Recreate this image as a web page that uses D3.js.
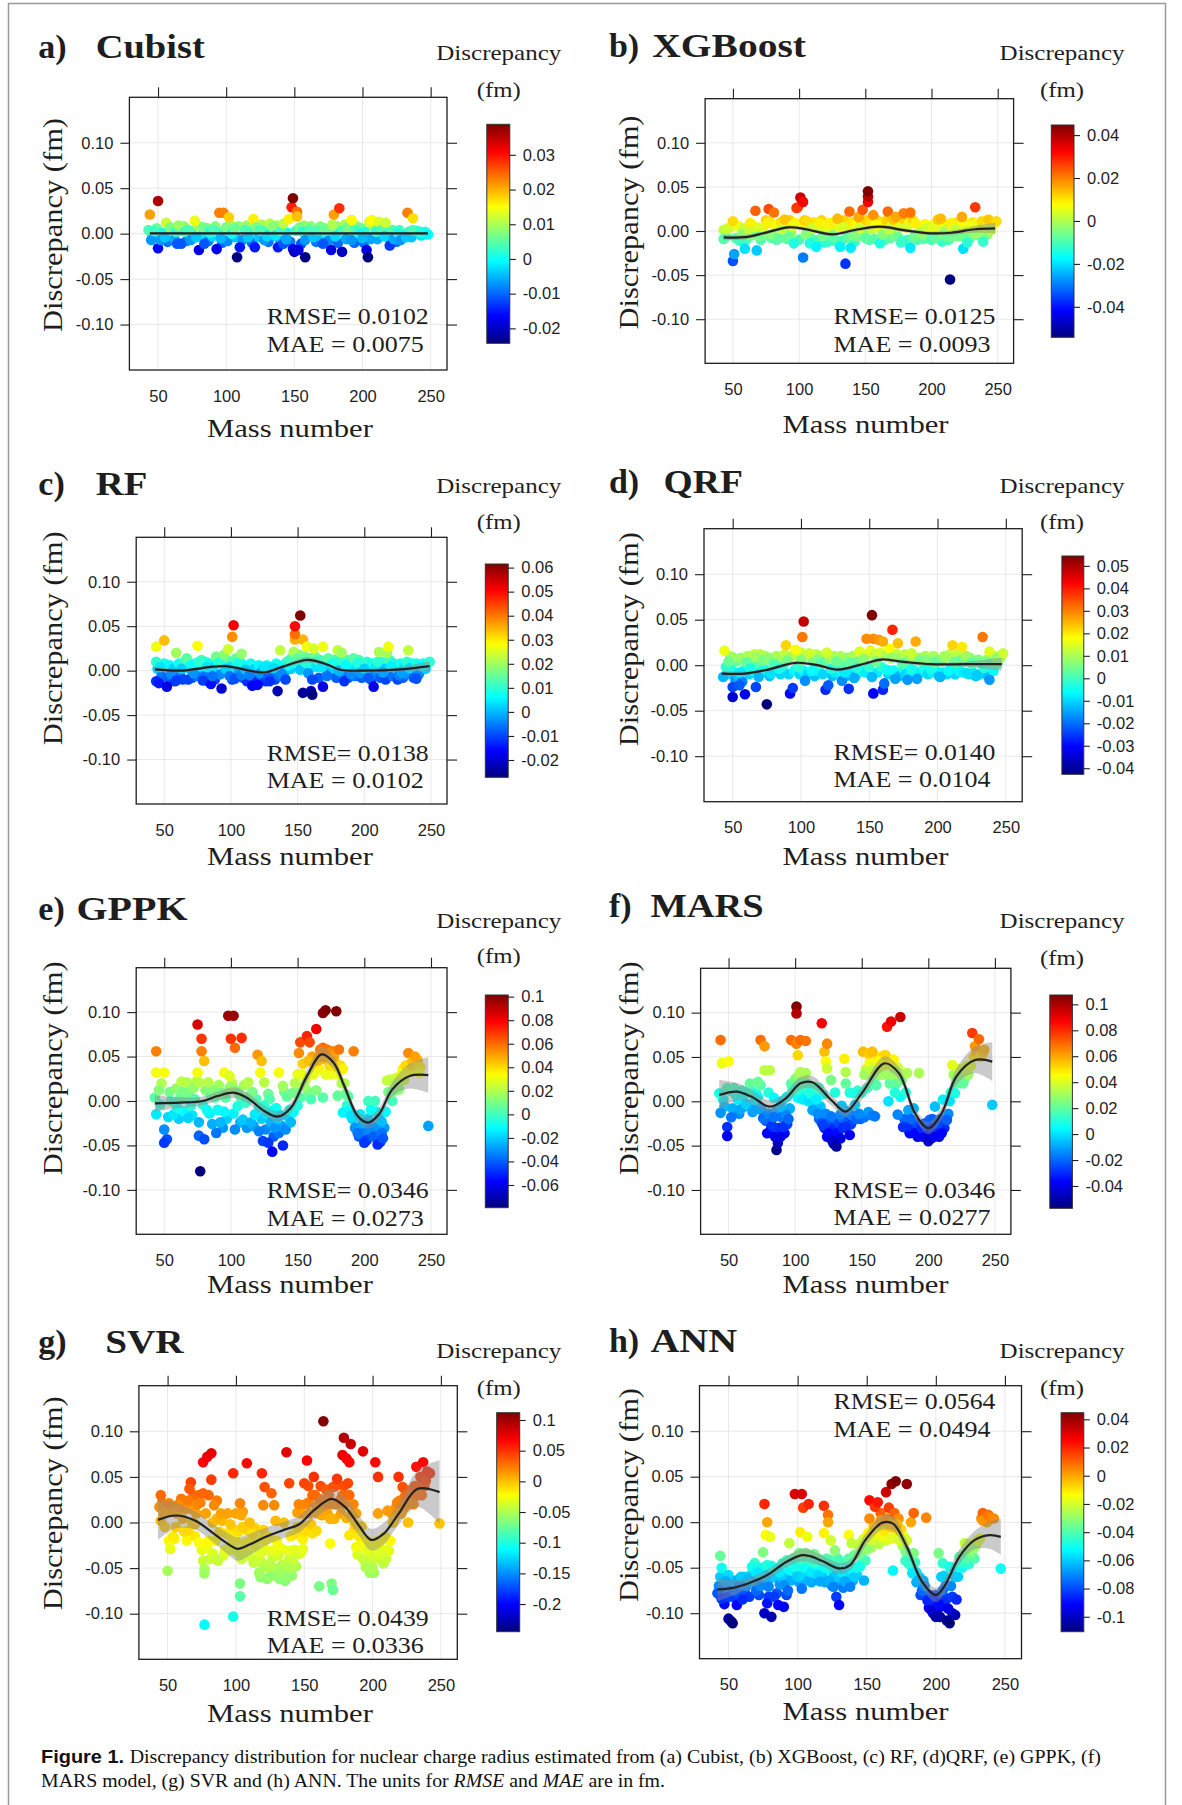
<!DOCTYPE html>
<html>
<head>
<meta charset="utf-8">
<script src="https://cdn.jsdelivr.net/npm/d3@7.9.0/dist/d3.min.js"></script>
<style>
  html, body { margin: 0; padding: 0; background: #fff; }
  svg { display: block; }
</style>
</head>
<body>
<svg id="fig" width="1182" height="1805"></svg>
<script>
// shared axes
const xTicks = [50, 100, 150, 200, 250];
const yTicks = [0.10, 0.05, 0.00, -0.05, -0.10];
const xDomain = [29, 262];
const yDomain = [-0.15, 0.15];
const jet = ["#00007F", "#0000FF", "#007FFF", "#00FFFF", "#7FFF7F", "#FFFF00", "#FF7F00", "#FF0000", "#7F0000"];

// a) Cubist  [mass number, discrepancy]
const cubistPoints = [[46,-0.002],[49,0.006],[53,0.001],[57,-0.009],[61,0.004],[62,-0.006],[66,0.003],[69,0.008],[71,-0.008],[75,0.002],[79,0.009],[82,-0.002],[83,0.007],[87,-0.008],[90,-0.003],[92,0.008],[94,0.001],[97,-0.010],[99,0.002],[101,-0.008],[103,0.010],[107,-0.004],[109,0.008],[112,-0.007],[115,0.009],[118,0.001],[119,-0.010],[124,-0.004],[126,0.010],[127,0.003],[131,-0.009],[133,0.001],[137,0.009],[139,-0.006],[141,0.005],[145,0.001],[147,-0.009],[151,0.003],[155,-0.011],[157,0.009],[160,-0.002],[162,0.008],[165,0.002],[166,-0.009],[169,0.008],[170,-0.004],[173,0.001],[175,-0.008],[176,0.006],[181,0.008],[182,-0.010],[184,0.002],[187,0.010],[190,-0.002],[191,0.004],[194,-0.010],[196,0.008],[199,0.006],[201,-0.010],[202,0.002],[206,-0.006],[208,0.008],[211,-0.006],[213,0.006],[215,0.010],[218,0.002],[219,-0.004],[222,0.004],[225,-0.009],[227,0.004],[230,-0.002],[234,0.002],[236,-0.004],[240,0.003],[243,-0.002],[246,0.002],
  [44,0.021],[50,0.036],[43,0.004],[45,-0.007],[50,-0.016],[52,-0.007],[47,0.003],[55,-0.004],[56,0.012],[59,0.007],[63,0.002],[65,0.009],[64,-0.011],[67,-0.011],[70,0.002],[72,0.004],[74,-0.007],[77,0.014],[78,-0.004],[80,-0.018],[84,-0.011],[86,0.006],[88,0.001],[91,0.004],[93,-0.017],[95,0.023],[96,-0.005],[98,0.023],[100,0.007],[102,0.018],[104,0],[106,0.006],[108,-0.026],[110,-0.015],[114,0.004],[116,-0.004],[120,0.016],[121,-0.015],[122,0.007],[125,0.004],[128,-0.007],[130,-0.003],[132,0.011],[134,0.008],[136,-0.002],[138,-0.015],[140,0.003],[142,0.011],[142,-0.011],[144,-0.006],[146,0.016],[148,0.029],[149,0.039],[152,0.024],[152,0.019],[149,-0.017],[150,-0.020],[153,-0.018],[154,0.007],[156,0.002],[158,-0.026],[158,-0.007],[161,0.004],[164,-0.004],[168,0.004],[171,-0.011],[172,0.006],[177,-0.018],[178,0.010],[179,0.021],[180,-0.003],[183,0.028],[185,-0.020],[186,0.004],[188,-0.006],[189,0.007],[192,0.015],[192,-0.007],[195,0.004],[198,0],[200,-0.005],[203,-0.018],[204,-0.026],[205,0.013],[207,0.015],[210,0.002],[212,0.013],[214,0.004],[216,-0.003],[217,0.012],[220,-0.013],[223,-0.006],[226,0.001],[228,-0.007],[232,-0.004],[233,0.023],[237,0.017],[237,0.004],[242,0.002],[245,0.001],[248,-0.001]];
const cubistFitA = [44, 100, 150, 200, 248];
const cubistFitD = [0.0003, 0.0003, 0.0003, 0.0003, 0.0003];
const cubistFitSe = [0.0015, 0.0012, 0.0012, 0.0012, 0.0015];
const cubistBar = [-0.0243, 0.0388];
const cubistBarTicks = [0.03, 0.02, 0.01, 0, -0.01, -0.02];

// b) XGBoost
const xgbPoints = [[45,-0.006],[48,0.004],[52,-0.008],[54,0.006],[58,0.003],[60,-0.010],[64,-0.005],[65,0.006],[69,0.004],[71,-0.010],[74,-0.003],[75,0.012],[78,0.010],[79,-0.008],[82,0.006],[83,-0.010],[86,0.010],[88,-0.005],[90,0.008],[91,-0.009],[93,0.012],[94,-0.002],[97,0.009],[100,-0.010],[102,0.008],[104,0.012],[107,0.002],[109,-0.008],[111,0.010],[112,-0.012],[114,0.004],[115,-0.010],[117,0.012],[119,-0.013],[120,0.002],[122,-0.012],[124,0.006],[125,-0.004],[127,0.010],[128,-0.012],[130,0.005],[132,-0.011],[134,0.012],[136,-0.008],[137,0.005],[140,0.010],[142,-0.012],[143,0.007],[144,-0.006],[147,0.010],[149,-0.003],[151,0.012],[153,-0.010],[154,0.010],[155,0.002],[157,-0.009],[159,0.012],[160,0.004],[162,0.010],[164,0.008],[165,-0.010],[166,0.012],[169,-0.008],[170,0.006],[172,-0.004],[174,0.010],[176,0.004],[177,-0.013],[180,0.012],[182,-0.010],[183,0.008],[186,0.012],[189,-0.010],[190,0.006],[192,0.002],[194,-0.009],[195,0.008],[197,-0.006],[199,0.004],[200,-0.010],[202,0.008],[204,-0.004],[206,0.004],[208,-0.012],[210,0.008],[211,0.002],[213,-0.010],[216,0.006],[217,-0.006],[219,0.010],[220,0.003],[222,0.006],[225,-0.006],[226,0.008],[228,0.002],[229,-0.008],[231,0.010],[232,-0.004],[234,0.008],[236,0.004],[237,-0.006],[240,0.008],[242,-0.004],[244,0.006],[247,0.008],
  [43,0.001],[43,-0.009],[46,0.003],[50,-0.034],[51,-0.026],[50,0.011],[55,-0.011],[57,-0.003],[59,-0.020],[62,0.002],[63,0.009],[67,0.023],[68,-0.022],[70,-0.006],[73,0.004],[76,0.009],[77,0.025],[80,-0.004],[81,0.021],[85,-0.008],[87,0.002],[89,0.013],[92,-0.007],[95,0.006],[96,-0.014],[98,0.026],[99,0.027],[101,0.038],[103,0.033],[103,-0.030],[105,-0.004],[106,0.011],[108,-0.014],[110,0.003],[113,-0.018],[116,0.009],[118,-0.006],[121,0.005],[123,0.009],[126,-0.008],[129,0.014],[131,-0.018],[133,0.004],[135,-0.037],[138,0.022],[139,-0.019],[141,-0.005],[145,0.016],[146,0.003],[148,0.024],[150,-0.008],[152,0.033],[152,0.039],[152,0.045],[156,0.018],[158,0.007],[161,-0.014],[163,-0.004],[167,0.022],[168,0.002],[171,0.013],[173,0.016],[175,-0.007],[178,-0.012],[179,0.020],[181,0.004],[184,0.021],[184,-0.019],[187,-0.006],[188,0.009],[193,-0.003],[196,0.003],[201,0.005],[203,-0.008],[205,0.013],[207,0.014],[209,-0.003],[212,-0.007],[214,-0.055],[215,0.009],[218,0.002],[221,-0.006],[223,0.016],[224,-0.020],[227,-0.013],[230,0.006],[233,0.027],[235,-0.002],[238,0.011],[239,-0.012],[241,0.004],[243,0.013],[245,0.001],[249,0.011]];
const xgbFitA = [43, 59, 73, 92, 105, 125, 142, 161, 179, 199, 215, 233, 248];
const xgbFitD = [-0.0072, -0.007, -0.0026, 0.0042, 0.002, -0.0038, 0.0011, 0.0049, 0.001, -0.0026, -0.002, 0.002, 0.003];
const xgbFitSe = [0.003, 0.0025, 0.002, 0.002, 0.002, 0.002, 0.002, 0.002, 0.002, 0.002, 0.0025, 0.004, 0.006];
const xgbBar = [-0.0542, 0.0447];
const xgbBarTicks = [0.04, 0.02, 0, -0.02, -0.04];

// c) RF
const rfPoints = [[45,0.002],[48,-0.006],[50,0.008],[53,-0.008],[54,0.006],[57,0.002],[58,-0.012],[61,0.008],[62,-0.006],[64,-0.010],[65,0.004],[66,0.012],[69,0.002],[71,-0.008],[73,0.008],[74,-0.006],[77,0.004],[78,0.012],[80,-0.006],[81,0.010],[83,-0.012],[84,0.008],[87,0.004],[88,-0.010],[90,0.012],[92,-0.004],[94,0.008],[97,0.012],[100,0.004],[101,-0.010],[104,0.014],[106,-0.002],[107,0.010],[109,-0.008],[110,0.006],[112,-0.012],[113,0.004],[115,0.008],[117,-0.006],[118,0.002],[119,-0.012],[121,0.006],[123,-0.008],[124,0.002],[126,-0.012],[127,0.006],[130,-0.004],[131,0.004],[133,-0.010],[134,0.008],[136,-0.006],[139,0.006],[140,-0.002],[142,0.010],[145,0.002],[146,0.015],[149,0.008],[151,0.018],[153,0.012],[155,0.016],[157,0.004],[159,0.014],[160,0.008],[163,0.016],[164,0.004],[166,-0.008],[167,0.012],[170,0.010],[171,0.002],[173,0.014],[174,-0.004],[177,0.002],[178,0.012],[179,-0.008],[182,0.010],[184,-0.004],[187,0.012],[188,-0.008],[189,0.004],[191,0.010],[193,-0.006],[194,0.004],[196,0.012],[198,-0.008],[199,0.006],[201,-0.004],[202,0.010],[204,0.002],[205,-0.010],[206,0.008],[208,-0.004],[209,0.004],[212,-0.008],[213,0.010],[215,0.002],[216,-0.010],[219,0.012],[221,-0.006],[222,0.008],[224,0.002],[225,-0.010],[227,0.008],[229,-0.008],[230,0.004],[231,-0.004],[232,0.010],[235,-0.002],[236,0.008],[237,-0.008],[240,0.004],[241,-0.004],[244,0.008],[246,0.002],[247,0.008],
  [44,0.027],[50,0.034],[44,0.010],[44,-0.012],[46,-0.014],[47,0.004],[52,-0.018],[55,-0.004],[59,0.020],[59,-0.011],[63,0.002],[67,0.014],[68,-0.010],[70,0.006],[72,-0.003],[75,0.028],[76,0.010],[79,-0.011],[82,0.004],[85,-0.015],[86,-0.006],[89,0.016],[91,0.009],[93,-0.020],[95,0.018],[96,0.002],[98,0.024],[99,-0.006],[101,0.038],[102,0.051],[103,-0.009],[105,0.008],[108,0.019],[108,-0.005],[111,0.001],[114,-0.005],[116,-0.017],[120,-0.016],[122,-0.003],[125,0.004],[128,-0.008],[129,-0.012],[132,0.003],[135,-0.023],[137,0.023],[138,-0.004],[141,-0.010],[143,0.006],[144,0.012],[147,0.021],[150,0.014],[148,0.035],[154,0.035],[148,0.041],[148,0.050],[152,0.062],[152,0.001],[154,-0.025],[156,0.009],[157,0.027],[158,-0.003],[160,-0.023],[161,-0.027],[161,-0.010],[162,0.025],[165,0.012],[168,0.004],[169,0.027],[169,-0.018],[172,-0.006],[176,0.008],[180,0.023],[181,0],[183,0.020],[185,-0.012],[186,0.006],[190,-0.004],[192,0.014],[195,0.009],[197,-0.003],[200,0.002],[203,-0.008],[207,-0.018],[210,0.010],[211,0.021],[214,-0.002],[217,0.020],[218,0.027],[220,0.005],[226,-0.005],[228,-0.002],[233,0.023],[234,0.003],[239,-0.009],[239,0.008],[243,0.005],[245,0.006],[249,0.010]];
const rfFitA = [43, 62, 95, 125, 139, 157, 171, 182, 200, 228, 249];
const rfFitD = [0.0015, 0, 0.005, -0.002, 0.0045, 0.012, 0.0075, 0.001, 0, 0.0015, 0.005];
const rfFitSe = [0.003, 0.002, 0.002, 0.002, 0.002, 0.003, 0.002, 0.002, 0.002, 0.003, 0.006];
const rfBar = [-0.0272, 0.0615];
const rfBarTicks = [0.06, 0.05, 0.04, 0.03, 0.02, 0.01, 0, -0.01, -0.02];

// d) QRF
const qrfPoints = [[46,-0.010],[48,0.010],[49,-0.004],[52,-0.016],[53,0.004],[54,-0.012],[56,0.008],[57,-0.018],[58,-0.006],[61,0.010],[62,-0.010],[64,0.004],[65,-0.006],[66,0.012],[68,0.002],[70,0.012],[71,-0.008],[73,-0.004],[74,0.010],[77,-0.012],[79,0.008],[81,-0.006],[82,0.010],[83,0.002],[85,-0.010],[86,0.008],[87,-0.002],[88,0.012],[91,-0.010],[93,0.010],[95,-0.006],[97,0.012],[99,-0.010],[100,0.014],[102,-0.006],[104,0.010],[105,-0.010],[107,0.012],[109,0.004],[110,-0.012],[111,0.012],[113,-0.006],[115,0.010],[116,-0.010],[117,0.004],[121,0.008],[123,-0.012],[124,0.010],[125,-0.008],[127,0.006],[128,-0.004],[129,0.010],[131,0.002],[133,-0.012],[134,0.008],[137,-0.008],[138,0.010],[140,-0.012],[142,0.004],[144,-0.006],[145,0.012],[147,-0.008],[149,0.012],[150,-0.002],[151,0.016],[154,0.012],[156,-0.008],[158,0.014],[159,-0.002],[162,0.010],[164,-0.010],[165,0.018],[168,-0.006],[170,0.012],[172,-0.012],[173,0.008],[175,-0.004],[176,0.012],[177,-0.010],[179,0.006],[180,-0.008],[182,0.010],[183,-0.006],[186,0.008],[188,-0.008],[189,0.004],[190,-0.004],[191,0.010],[193,-0.010],[194,0.006],[196,-0.008],[197,0.010],[199,-0.006],[200,0.006],[201,-0.012],[203,0.004],[204,-0.008],[205,0.010],[207,-0.010],[209,0.012],[210,-0.004],[212,0.004],[213,-0.010],[215,0.012],[216,-0.006],[217,0.006],[219,-0.008],[220,0.004],[221,0.010],[223,-0.010],[224,0.008],[226,-0.008],[227,0.004],[228,-0.012],[230,0.006],[231,-0.010],[232,0.002],[235,-0.008],[236,0.006],[237,-0.012],[239,0.004],[241,-0.006],[242,0.010],[244,0.002],[246,0.008],
  [44,0.016],[50,0.009],[45,-0.002],[43,-0.013],[47,0.004],[50,-0.024],[50,-0.035],[55,-0.022],[55,-0.008],[59,-0.032],[60,0.003],[63,-0.004],[67,-0.024],[69,-0.013],[67,0.009],[72,0.005],[75,-0.043],[76,0.007],[78,-0.009],[80,0.001],[84,-0.004],[89,0.022],[90,0.005],[92,-0.031],[94,-0.025],[96,0.017],[98,-0.002],[100,0.006],[101,0.031],[102,0.048],[103,-0.017],[106,0.013],[108,-0.006],[112,0.006],[114,0.002],[118,-0.027],[120,-0.022],[119,0.014],[122,-0.004],[126,0.004],[130,-0.017],[132,-0.008],[135,-0.026],[136,0.003],[139,-0.014],[141,-0.003],[143,0.015],[146,0.007],[148,0.029],[153,0.029],[157,0.028],[160,0.026],[152,0.055],[152,-0.013],[153,-0.031],[155,0.004],[160,-0.027],[161,-0.020],[163,-0.005],[166,0.008],[167,0.039],[169,-0.015],[171,0.024],[174,0.002],[178,-0.016],[181,-0.004],[181,0.013],[184,0.026],[185,-0.015],[187,0.005],[192,0.006],[195,-0.004],[198,0.003],[202,-0.013],[206,0.009],[208,-0.006],[211,0.022],[214,0.004],[218,0.020],[222,-0.009],[225,0.002],[229,-0.011],[233,0.031],[234,-0.003],[238,-0.016],[238,0.015],[240,0.002],[243,0.007],[248,0.013]];
const qrfFitA = [42, 59, 76, 96, 112, 127, 145, 159, 175, 195, 222, 247];
const qrfFitD = [-0.0092, -0.0092, -0.0048, 0.0026, 0, -0.0048, 0.0011, 0.0062, 0.0037, 0.0011, 0.0011, 0.0011];
const qrfFitSe = [0.003, 0.002, 0.002, 0.002, 0.002, 0.002, 0.002, 0.002, 0.002, 0.002, 0.003, 0.007];
const qrfBar = [-0.0427, 0.0544];
const qrfBarTicks = [0.05, 0.04, 0.03, 0.02, 0.01, 0, -0.01, -0.02, -0.03, -0.04];

// e) GPPK
const gppkPoints = [[47,-0.004],[48,0.020],[53,-0.018],[54,0.010],[58,-0.002],[59,0.014],[61,-0.020],[63,0.022],[65,-0.012],[66,0.004],[69,0.010],[71,-0.016],[73,0.002],[74,0.022],[79,-0.004],[81,0.012],[84,-0.014],[88,0.004],[90,-0.010],[91,0.018],[94,-0.030],[96,0.004],[97,-0.020],[101,0.020],[102,-0.014],[104,0.012],[107,-0.024],[108,0.002],[110,0.018],[112,-0.030],[114,0.006],[117,-0.028],[119,0.002],[121,-0.008],[123,-0.020],[126,-0.032],[127,-0.014],[130,-0.024],[132,-0.040],[134,-0.008],[136,-0.036],[137,-0.016],[138,-0.028],[140,0.010],[143,-0.018],[147,-0.012],[149,0.010],[150,0.030],[152,0.004],[154,0.042],[156,0.024],[158,0.010],[161,0.050],[163,0.040],[164,0.012],[166,0.036],[169,0.060],[171,0.030],[172,0.058],[173,0.046],[175,0.030],[176,0.056],[178,0.044],[180,0.030],[182,0.040],[183,0.020],[186,0.008],[187,-0.005],[189,-0.012],[191,-0.020],[193,-0.030],[194,-0.018],[196,-0.040],[198,-0.028],[199,-0.038],[201,-0.034],[202,-0.044],[203,-0.020],[206,-0.028],[208,-0.030],[209,-0.012],[212,-0.046],[215,-0.030],[216,-0.012],[218,0.010],[219,0.024],[221,0.000],[223,0.012],[224,0.026],[225,0.018],[227,0.022],[229,0.036],[230,0.024],[231,0.040],[234,0.034],[235,0.040],[237,0.044],[240,0.046],[242,0.038],
  [44,0.056],[44,0.032],[50,0.032],[43,0.004],[44,-0.015],[46,0.012],[50,-0.032],[52,-0.043],[50,-0.047],[55,0],[57,-0.015],[60,-0.008],[62,0.004],[64,0.010],[67,0.021],[68,-0.019],[70,-0.005],[72,0.015],[75,0.086],[75,0.032],[76,0.021],[78,0.070],[78,0.056],[80,0.045],[77,-0.079],[76,-0.039],[80,-0.043],[76,-0.024],[82,-0.010],[83,0.021],[85,0.006],[86,-0.026],[87,0.012],[89,-0.036],[92,-0.024],[95,0.032],[93,0.009],[95,-0.012],[98,0.096],[102,0.096],[100,0.070],[103,0.060],[108,0.071],[99,0.028],[99,0.015],[103,-0.032],[105,-0.006],[106,0.008],[109,-0.021],[111,-0.002],[113,0.021],[115,-0.024],[116,0.010],[118,-0.015],[120,0.052],[123,0.045],[122,0.032],[125,0.021],[121,-0.034],[124,-0.045],[125,-0.005],[128,-0.047],[128,0.008],[131,-0.057],[129,0.002],[131,-0.011],[133,-0.030],[135,-0.020],[136,0.032],[139,-0.050],[139,0.017],[141,-0.032],[142,0.005],[144,-0.010],[145,-0.024],[146,0.009],[148,0.020],[150,-0.005],[151,0.054],[152,0.066],[153,0.030],[155,0.017],[157,0.073],[158,0.045],[159,0.066],[160,0.002],[162,0.030],[164,0.081],[165,0.045],[167,0.058],[168,0.055],[169,0.099],[171,0.102],[170,0.047],[169,0.004],[174,0.054],[174,0.040],[177,0.050],[177,0.039],[179,0.101],[181,0.058],[180,0.006],[184,0.036],[184,-0.013],[185,0.020],[188,0.005],[190,-0.017],[192,0.056],[195,-0.036],[197,-0.015],[200,-0.047],[200,-0.025],[203,0],[204,-0.032],[205,-0.010],[207,-0.040],[208,0],[210,-0.049],[211,-0.020],[213,-0.036],[213,-0.023],[214,-0.042],[217,0.023],[220,0.009],[222,0.020],[226,0.013],[228,0.030],[233,0.054],[236,0.045],[238,0.050],[239,0.039],[241,0.032],[248,-0.028]];
const gppkFitA = [43, 62, 79, 90, 102, 112, 125, 135, 145, 157, 168, 177, 185, 195, 203, 211, 221, 234, 248];
const gppkFitD = [-0.0026, -0.0019, 0, 0.0056, 0.0094, 0.0037, -0.0112, -0.0176, -0.0075, 0.028, 0.0524, 0.043, 0.0169, -0.0169, -0.0243, -0.015, 0.0131, 0.0281, 0.0292];
const gppkFitSe = [0.009, 0.006, 0.005, 0.005, 0.006, 0.006, 0.006, 0.006, 0.006, 0.007, 0.008, 0.007, 0.006, 0.006, 0.007, 0.007, 0.008, 0.014, 0.02];
const gppkBar = [-0.0793, 0.1014];
const gppkBarTicks = [0.1, 0.08, 0.06, 0.04, 0.02, 0, -0.02, -0.04, -0.06];

// f) MARS
const marsPoints = [[46,0.002],[47,-0.006],[51,0.012],[53,-0.008],[54,0.015],[57,0.002],[58,-0.014],[60,0.012],[62,-0.006],[64,0.010],[65,-0.004],[67,0.012],[68,-0.012],[71,0.008],[73,-0.006],[74,0.018],[75,-0.010],[78,-0.022],[80,0.010],[82,-0.030],[84,0.004],[85,-0.040],[86,-0.010],[88,-0.030],[90,-0.018],[90,0.000],[92,-0.036],[94,-0.026],[96,-0.008],[97,0.020],[99,0.010],[100,0.025],[102,0.004],[103,0.030],[105,0.015],[106,0.026],[107,0.008],[109,0.020],[110,0.014],[112,0.004],[114,0.010],[115,-0.005],[116,0.016],[118,-0.020],[119,-0.006],[120,-0.024],[121,0.008],[122,-0.030],[123,-0.014],[124,-0.040],[126,-0.022],[127,-0.040],[129,-0.030],[129,-0.048],[130,-0.020],[132,-0.035],[133,-0.025],[134,-0.042],[135,-0.018],[136,-0.030],[137,-0.010],[139,-0.022],[140,-0.012],[141,0.010],[142,-0.026],[143,-0.016],[145,-0.004],[147,0.012],[149,-0.020],[150,0.010],[152,-0.018],[153,0.036],[155,-0.012],[156,0.044],[158,-0.016],[159,0.024],[160,0.040],[162,0.050],[164,0.030],[165,0.050],[166,0.040],[167,0.052],[170,0.045],[171,0.020],[172,0.040],[173,0.030],[176,0.020],[177,0.038],[179,0.005],[180,0.024],[182,-0.020],[183,0.010],[184,-0.030],[186,-0.036],[188,-0.030],[189,-0.008],[191,-0.025],[192,-0.040],[194,-0.036],[196,-0.040],[198,-0.036],[199,-0.030],[200,-0.038],[202,-0.042],[203,-0.020],[205,-0.036],[206,-0.030],[208,-0.040],[209,-0.020],[212,-0.030],[213,-0.020],[215,-0.014],[217,0.010],[219,0.030],[221,0.020],[222,0.036],[225,0.036],[227,0.024],[229,0.040],[230,0.030],[234,0.050],[236,0.056],[239,0.050],
  [44,0.069],[45,0.043],[50,0.045],[43,0.009],[49,0.015],[44,-0.013],[52,-0.018],[49,-0.029],[49,-0.039],[55,0.008],[59,-0.009],[61,0.005],[63,-0.003],[66,0.020],[70,0.002],[69,-0.010],[72,0.005],[72,0.022],[74,0.069],[77,0.062],[77,0.035],[76,-0.019],[80,-0.014],[81,0.035],[79,-0.036],[83,-0.028],[84,-0.018],[86,-0.055],[87,-0.047],[89,-0.040],[91,-0.029],[93,-0.015],[89,-0.006],[94,0.005],[95,-0.020],[97,0.069],[98,0.015],[101,0.107],[101,0.099],[101,0.065],[102,0.052],[103,0.020],[104,0.069],[108,0.068],[104,0.033],[108,0.032],[101,0.013],[106,0.002],[110,0],[111,0.009],[113,-0.010],[116,0.002],[117,-0.014],[118,0.015],[120,0.088],[122,0.056],[124,0.065],[123,0.045],[124,0.037],[127,0.024],[121,-0.027],[125,-0.036],[128,-0.045],[130,0.010],[131,-0.051],[127,-0.017],[134,-0.015],[135,-0.005],[137,0.048],[138,0.033],[138,0.020],[138,-0.029],[141,-0.038],[144,0.009],[146,-0.020],[148,-0.014],[151,0.056],[152,0.030],[155,0.054],[157,0.035],[158,0.056],[154,0.015],[160,-0.017],[161,0.018],[163,0.045],[167,0.030],[169,0.084],[172,0.090],[179,0.095],[168,0.052],[174,0.047],[175,0.010],[178,0.032],[170,0],[177,-0.015],[181,-0.029],[184,0.032],[185,-0.010],[187,-0.020],[190,-0.036],[193,0.032],[195,-0.030],[197,-0.025],[200,-0.045],[201,-0.021],[203,-0.030],[204,-0.040],[205,-0.006],[207,-0.025],[210,-0.036],[211,0.002],[214,-0.021],[216,0],[218,0.041],[220,0.009],[224,0.028],[226,0.020],[228,0.035],[232,0.040],[233,0.077],[235,0.062],[238,0.070],[241,0.054],[242,0.058],[248,-0.004]];
const marsFitA = [43, 56, 67, 81, 93, 104, 113, 127, 138, 150, 167, 178, 190, 200, 210, 221, 235, 248];
const marsFitD = [0.0071, 0.0109, 0.0053, -0.006, 0.0034, 0.0203, 0.0214, 0.0015, -0.0116, 0.009, 0.0428, 0.0315, -0.0135, -0.0304, -0.0135, 0.0278, 0.0465, 0.0447];
const marsFitSe = [0.017, 0.01, 0.008, 0.007, 0.007, 0.007, 0.007, 0.006, 0.006, 0.007, 0.008, 0.007, 0.006, 0.007, 0.007, 0.009, 0.015, 0.022];
const marsBar = [-0.0572, 0.1072];
const marsBarTicks = [0.1, 0.08, 0.06, 0.04, 0.02, 0, -0.02, -0.04];

// g) SVR
const svrPoints = [[46,0.022],[48,-0.005],[49,0.012],[53,0.014],[55,-0.018],[57,0.010],[60,0.026],[61,0.004],[63,0.015],[64,-0.020],[67,0.015],[69,0.030],[70,-0.015],[71,0.010],[73,0.030],[75,-0.030],[78,0.010],[79,-0.028],[80,0.030],[81,-0.040],[83,0.000],[85,-0.020],[86,0.024],[88,-0.010],[90,0.002],[91,-0.036],[93,-0.012],[94,0.010],[95,-0.030],[97,-0.024],[99,-0.008],[100,0.010],[101,-0.032],[102,-0.010],[104,-0.040],[105,0.012],[107,-0.022],[108,-0.008],[109,-0.036],[111,-0.020],[113,-0.044],[114,-0.006],[116,-0.030],[117,-0.018],[118,-0.060],[119,-0.044],[120,-0.008],[122,-0.030],[123,-0.062],[124,-0.016],[126,-0.052],[127,-0.038],[129,-0.058],[130,-0.020],[131,-0.036],[132,-0.062],[134,-0.046],[135,-0.030],[137,-0.054],[139,-0.040],[140,-0.015],[141,-0.058],[143,-0.030],[144,-0.048],[145,-0.005],[147,-0.034],[148,0.010],[149,-0.018],[151,0.020],[152,-0.004],[153,0.040],[154,0.010],[156,-0.012],[158,0.030],[159,0.018],[161,0.026],[162,0.040],[164,0.014],[166,0.036],[167,0.010],[168,0.030],[170,0.020],[172,0.004],[173,0.040],[175,0.020],[177,0.010],[179,0.040],[180,0.020],[181,0.005],[183,0.030],[185,0.010],[186,-0.010],[188,0.010],[189,-0.035],[191,-0.025],[192,-0.004],[193,-0.040],[196,-0.020],[197,-0.045],[199,-0.035],[200,-0.026],[201,-0.055],[203,-0.040],[204,-0.020],[206,-0.040],[207,-0.030],[209,-0.015],[210,-0.030],[213,-0.020],[214,0.010],[216,0.004],[217,0.016],[220,0.024],[221,0.010],[223,0.016],[224,0.030],[226,0.020],[227,0.035],[229,0.030],[230,0.020],[231,0.040],[234,0.040],[236,0.030],[240,0.056],
  [45,0.030],[44,0.017],[51,0.021],[45,0.002],[47,0.010],[51,-0.020],[52,-0.029],[50,-0.053],[54,-0.015],[56,-0.005],[58,0.020],[59,0.017],[62,-0.010],[65,0.024],[67,0.044],[66,0.037],[65,-0.009],[68,0],[70,-0.002],[72,0.020],[74,0.022],[76,0.032],[76,0.066],[79,0.072],[82,0.076],[73,-0.022],[76,-0.042],[77,-0.051],[77,-0.056],[77,-0.112],[80,-0.020],[82,0.047],[83,-0.034],[84,0.019],[84,-0.040],[86,0.004],[87,-0.042],[89,0.010],[92,-0.030],[96,-0.002],[96,-0.015],[98,0.054],[98,-0.103],[100,-0.020],[103,-0.067],[103,-0.081],[103,0.021],[104,0.008],[105,-0.005],[106,-0.030],[108,0.065],[110,0],[112,-0.013],[114,-0.027],[115,-0.040],[117,-0.055],[118,-0.034],[119,0.054],[121,0.039],[120,0.019],[121,-0.020],[122,-0.049],[124,-0.060],[125,-0.045],[126,0.032],[128,0.019],[128,-0.030],[129,0.002],[131,-0.050],[132,-0.027],[133,-0.056],[135,0],[136,-0.064],[137,0.077],[138,-0.049],[138,-0.060],[139,0.043],[140,-0.031],[142,-0.040],[143,-0.013],[145,0.011],[146,0.020],[149,-0.029],[150,-0.010],[150,0.043],[152,0.068],[153,0.022],[155,-0.002],[156,0.030],[157,0.050],[159,-0.009],[160,0.010],[161,-0.070],[163,0.008],[164,0.111],[165,0.025],[167,0.021],[169,0.004],[169,-0.023],[170,-0.067],[171,-0.074],[171,0.039],[172,0.020],[174,0.048],[176,0.024],[178,0.030],[178,0.074],[179,0.093],[181,0.070],[182,0.043],[183,0.066],[184,0.086],[183,-0.014],[186,0.020],[187,-0.002],[188,-0.027],[190,-0.015],[193,0.078],[194,-0.042],[195,-0.049],[196,-0.030],[198,-0.055],[200,-0.050],[202,0.066],[204,0.050],[204,0.010],[205,-0.034],[206,-0.020],[208,-0.045],[210,-0.040],[211,0.013],[212,-0.031],[215,0],[218,0.022],[219,0.050],[220,0.010],[222,0.039],[225,0.030],[226,0],[228,0.021],[232,0.061],[233,0.030],[235,0.050],[237,0.066],[238,0.040],[239,0.046],[242,0.054],[249,-0.001]];
const svrFitA = [43, 56, 70, 84, 95, 101, 110, 121, 135, 146, 157, 170, 180, 190, 199, 208, 219, 233, 249];
const svrFitD = [0.0029, 0.0077, 0.0022, -0.0125, -0.0242, -0.0289, -0.0242, -0.0161, -0.0081, -0.0022, 0.0132, 0.026, 0.0168, -0.0033, -0.019, -0.0125, 0.0095, 0.037, 0.0333];
const svrFitSe = [0.022, 0.014, 0.01, 0.01, 0.012, 0.013, 0.012, 0.01, 0.009, 0.009, 0.01, 0.011, 0.011, 0.011, 0.012, 0.012, 0.012, 0.02, 0.035];
const svrBar = [-0.2451, 0.1119];
const svrBarTicks = [0.1, 0.05, 0, -0.05, -0.1, -0.15, -0.2];

// h) ANN
const annPoints = [[43,-0.070],[44,-0.060],[46,-0.076],[47,-0.090],[49,-0.072],[51,-0.064],[53,-0.082],[55,-0.064],[57,-0.078],[58,-0.070],[61,-0.060],[62,-0.078],[63,-0.070],[65,-0.082],[66,-0.058],[68,-0.066],[69,-0.045],[71,-0.064],[72,-0.080],[74,-0.050],[75,-0.064],[77,-0.058],[79,-0.082],[80,-0.062],[81,-0.048],[84,-0.060],[85,-0.078],[86,-0.050],[87,-0.068],[89,-0.045],[91,-0.060],[92,-0.080],[94,-0.052],[95,-0.064],[97,-0.040],[99,-0.056],[100,-0.040],[101,-0.066],[102,-0.048],[104,-0.042],[105,-0.064],[106,-0.034],[107,-0.052],[109,-0.042],[110,-0.066],[111,-0.040],[113,-0.055],[114,-0.048],[115,-0.040],[117,-0.052],[118,-0.060],[120,-0.066],[121,-0.040],[123,-0.052],[124,-0.042],[125,-0.070],[127,-0.050],[128,-0.064],[129,-0.040],[131,-0.060],[133,-0.072],[135,-0.048],[136,-0.058],[137,-0.040],[139,-0.052],[140,-0.064],[141,-0.036],[143,-0.058],[144,-0.026],[146,-0.046],[147,-0.030],[148,-0.018],[149,-0.042],[151,-0.012],[153,-0.028],[155,-0.004],[156,-0.020],[158,-0.008],[159,-0.024],[160,0.010],[162,-0.004],[164,-0.020],[165,0.004],[166,0.016],[168,0.000],[170,0.010],[171,-0.010],[173,0.004],[175,-0.008],[176,-0.026],[177,-0.016],[178,-0.032],[179,-0.020],[181,-0.036],[182,-0.048],[185,-0.044],[186,-0.066],[188,-0.060],[189,-0.080],[191,-0.064],[193,-0.078],[195,-0.094],[196,-0.080],[198,-0.100],[199,-0.090],[200,-0.080],[201,-0.098],[203,-0.082],[203,-0.104],[204,-0.060],[206,-0.092],[207,-0.070],[208,-0.084],[211,-0.070],[212,-0.100],[213,-0.050],[216,-0.060],[219,-0.050],[220,-0.036],[223,-0.030],[224,-0.046],[226,-0.024],[228,-0.040],[229,-0.026],[232,-0.018],[233,0.004],[235,0.008],[237,0.000],[240,0.004],
  [44,-0.037],[45,-0.050],[50,-0.058],[42,-0.078],[45,-0.084],[48,-0.065],[50,-0.082],[50,-0.106],[52,-0.109],[53,-0.111],[54,-0.075],[56,-0.091],[59,-0.060],[60,-0.085],[62,-0.069],[64,-0.062],[67,-0.049],[70,-0.075],[70,-0.055],[72,-0.056],[73,-0.070],[75,-0.033],[76,0.020],[78,0.000],[77,-0.014],[80,-0.016],[78,-0.047],[76,-0.100],[81,-0.104],[78,-0.089],[79,-0.071],[82,-0.050],[83,-0.082],[86,-0.091],[88,-0.060],[90,-0.093],[90,-0.069],[87,-0.055],[92,-0.042],[93,-0.075],[94,-0.023],[96,-0.045],[98,0.031],[103,0.031],[104,0.016],[108,0.020],[102,-0.011],[107,-0.016],[101,-0.034],[98,-0.049],[100,-0.060],[104,-0.058],[103,-0.073],[105,-0.050],[108,-0.064],[110,-0.055],[112,-0.045],[112,-0.035],[115,-0.058],[116,-0.065],[119,0.018],[122,0.008],[122,0],[119,-0.012],[120,-0.050],[124,-0.020],[126,-0.060],[127,-0.031],[130,-0.042],[123,-0.064],[126,-0.071],[128,-0.082],[130,-0.091],[132,-0.055],[134,-0.065],[137,-0.014],[139,-0.023],[138,-0.071],[141,-0.060],[142,-0.050],[145,-0.049],[145,-0.035],[146,-0.022],[148,-0.064],[150,-0.030],[152,0.024],[152,0.004],[154,-0.020],[156,0.017],[158,0.022],[160,0.002],[157,-0.012],[161,-0.016],[163,-0.010],[164,0.033],[168,0.042],[171,0.045],[179,0.042],[167,-0.005],[168,-0.018],[169,-0.053],[170,-0.005],[172,-0.002],[174,-0.020],[178,-0.042],[180,-0.045],[182,0],[184,0.010],[184,-0.034],[183,-0.056],[186,-0.055],[187,-0.064],[190,-0.075],[192,-0.070],[193,0.005],[194,-0.086],[197,-0.097],[198,-0.085],[200,-0.104],[202,-0.090],[202,-0.034],[205,-0.045],[205,-0.075],[206,-0.059],[208,-0.108],[209,-0.095],[210,-0.111],[210,-0.049],[212,-0.082],[214,-0.102],[214,-0.060],[215,-0.085],[217,-0.038],[218,-0.045],[221,-0.023],[222,-0.040],[225,-0.034],[227,-0.030],[230,-0.020],[231,-0.020],[234,0.010],[234,0.002],[236,0.003],[238,0.008],[239,0.006],[242,0.004],[247,-0.051]];
const annFitA = [42, 51, 64, 78, 92, 103, 109, 119, 130, 138, 149, 161, 169, 179, 190, 200, 206, 217, 228, 239, 247];
const annFitD = [-0.0739, -0.0728, -0.0673, -0.0581, -0.0435, -0.0362, -0.0373, -0.0435, -0.0508, -0.0472, -0.0197, -0.0007, -0.0015, -0.0271, -0.0654, -0.0801, -0.0709, -0.038, -0.0197, -0.0143, -0.0161];
const annFitSe = [0.013, 0.009, 0.006, 0.006, 0.006, 0.007, 0.007, 0.006, 0.006, 0.006, 0.007, 0.008, 0.008, 0.007, 0.007, 0.008, 0.008, 0.008, 0.01, 0.015, 0.02];
const annBar = [-0.1106, 0.0447];
const annBarTicks = [0.04, 0.02, 0, -0.02, -0.04, -0.06, -0.08, -0.1];

const labels = ["a)", "b)", "c)", "d)", "e)", "f)", "g)", "h)"];
const models = ["Cubist", "XGBoost", "RF", "QRF", "GPPK", "MARS", "SVR", "ANN"];
const rmse = ["0.0102", "0.0125", "0.0138", "0.0140", "0.0346", "0.0346", "0.0439", "0.0564"];
const mae = ["0.0075", "0.0093", "0.0102", "0.0104", "0.0273", "0.0277", "0.0336", "0.0494"];

// layout of each panel (pixels)
const panels = [
  {pts: cubistPoints, fa: cubistFitA, fd: cubistFitD, fs: cubistFitSe, bar: cubistBar, bt: cubistBarTicks,
   frame: [129.4, 447, 97.3, 370], tBy: 58.3, lx: 38.3, nx: 95.7, nw: 109, legX: 436.3, legBy: 60, fmX: 498.8, fmBy: 97,
   barBox: [486.8, 509.8, 124.3, 343.3], ytX: 62, ytY: 225, stX: 266.7, stY: [324, 351.7], mnX: 289.9, mnBy: 436.7},
  {pts: xgbPoints, fa: xgbFitA, fd: xgbFitD, fs: xgbFitSe, bar: xgbBar, bt: xgbBarTicks,
   frame: [705.1, 1013.6, 98.7, 363.3], tBy: 56.7, lx: 608.9, nx: 652.3, nw: 153.7, legX: 999.6, legBy: 60, fmX: 1061.9, fmBy: 96.7,
   barBox: [1051.3, 1074, 125, 337.3], ytX: 638, ytY: 222.5, stX: 833.5, stY: [324, 351.7], mnX: 865.6, mnBy: 433},
  {pts: rfPoints, fa: rfFitA, fd: rfFitD, fs: rfFitSe, bar: rfBar, bt: rfBarTicks,
   frame: [136.2, 447, 537.3, 804], tBy: 495, lx: 38.3, nx: 95.7, nw: 51.6, legX: 436.3, legBy: 493.3, fmX: 498.8, fmBy: 529.3,
   barBox: [485.3, 508.2, 564, 777.3], ytX: 62, ytY: 638.3, stX: 266.7, stY: [760.7, 788.3], mnX: 289.9, mnBy: 865},
  {pts: qrfPoints, fa: qrfFitA, fd: qrfFitD, fs: qrfFitSe, bar: qrfBar, bt: qrfBarTicks,
   frame: [704, 1022.2, 528.7, 801.7], tBy: 493.3, lx: 608.9, nx: 663.6, nw: 79.3, legX: 999.6, legBy: 493.3, fmX: 1061.9, fmBy: 529.3,
   barBox: [1061.9, 1083.8, 556, 774.3], ytX: 638, ytY: 639.2, stX: 833.5, stY: [760, 787.3], mnX: 865.6, mnBy: 865},
  {pts: gppkPoints, fa: gppkFitA, fd: gppkFitD, fs: gppkFitSe, bar: gppkBar, bt: gppkBarTicks,
   frame: [136.2, 447, 967.7, 1234.3], tBy: 920, lx: 38.3, nx: 76.5, nw: 111, legX: 436.3, legBy: 928, fmX: 498.8, fmBy: 963,
   barBox: [485.3, 508.2, 995, 1207.7], ytX: 62, ytY: 1068.3, stX: 266.7, stY: [1198.3, 1226], mnX: 289.9, mnBy: 1293.3},
  {pts: marsPoints, fa: marsFitA, fd: marsFitD, fs: marsFitSe, bar: marsBar, bt: marsBarTicks,
   frame: [700.6, 1010.9, 968.3, 1234.3], tBy: 916.7, lx: 608.9, nx: 650.4, nw: 113.3, legX: 999.6, legBy: 927.7, fmX: 1061.9, fmBy: 965,
   barBox: [1049.8, 1072.4, 995, 1208.3], ytX: 638, ytY: 1068.3, stX: 833.5, stY: [1198.3, 1225], mnX: 865.6, mnBy: 1293.3},
  {pts: svrPoints, fa: svrFitA, fd: svrFitD, fs: svrFitSe, bar: svrBar, bt: svrBarTicks,
   frame: [138.9, 457.3, 1385.7, 1659.3], tBy: 1353.3, lx: 38.3, nx: 105.2, nw: 78.5, legX: 436.3, legBy: 1358.3, fmX: 498.8, fmBy: 1395,
   barBox: [496.7, 519.7, 1412.7, 1631.7], ytX: 62, ytY: 1503.3, stX: 266.7, stY: [1626, 1653.3], mnX: 289.9, mnBy: 1721.7},
  {pts: annPoints, fa: annFitA, fd: annFitD, fs: annFitSe, bar: annBar, bt: annBarTicks,
   frame: [699.5, 1021.5, 1385.7, 1658.7], tBy: 1351.7, lx: 608.9, nx: 650.4, nw: 86.8, legX: 999.6, legBy: 1358.3, fmX: 1061.9, fmBy: 1395,
   barBox: [1061.1, 1083.8, 1412.7, 1631.7], ytX: 638, ytY: 1495, stX: 833.5, stY: [1409.3, 1436.7], mnX: 865.6, mnBy: 1720}
];

const SERIF = "'Liberation Serif', 'Times New Roman', serif";
const SANS = "'Liberation Sans', Arial, Helvetica, sans-serif";
const INK = "#1e1e1e";
const TICK_FS = 16.5;

const svg = d3.select('#fig');
svg.append('rect').attr('width', 1182).attr('height', 1805).attr('fill', '#fff');
// figure border
svg.append('rect').attr('x', 8.5).attr('y', 3.5).attr('width', 1157).attr('height', 1815)
  .attr('fill', 'none').attr('stroke', '#9a9a9a').attr('stroke-width', 1.5);
const defs = svg.append('defs');

const barFmt = d => d === 0 ? '0' : String(+d.toFixed(2));

function styleAxis(sel) {
  sel.select('.domain').remove();
  sel.selectAll('line').attr('stroke', INK).attr('stroke-width', 1.1);
  sel.selectAll('text').attr('fill', INK).attr('font-family', SANS).attr('font-size', TICK_FS);
  sel.attr('font-family', null).attr('font-size', null);
}

panels.forEach((p, i) => {
  const [L, R, T, B] = p.frame;
  const x = d3.scaleLinear().domain(xDomain).range([L, R]);
  const y = d3.scaleLinear().domain(yDomain).range([B, T]);
  const g = svg.append('g');

  // grid
  g.selectAll('line.gx').data(xTicks).join('line').attr('class', 'gx')
    .attr('x1', d => x(d)).attr('x2', d => x(d)).attr('y1', T).attr('y2', B)
    .attr('stroke', '#e8e8e8').attr('stroke-width', 1);
  g.selectAll('line.gy').data(yTicks).join('line').attr('class', 'gy')
    .attr('x1', L).attr('x2', R).attr('y1', d => y(d)).attr('y2', d => y(d))
    .attr('stroke', '#e8e8e8').attr('stroke-width', 1);

  // colour scale (jet) over the colour-key range
  const [lo, hi] = p.bar;
  const color = d3.scaleLinear()
    .domain(jet.map((_, k) => lo + (hi - lo) * k / (jet.length - 1)))
    .range(jet).clamp(true);

  // points
  g.selectAll('circle').data(p.pts).join('circle')
    .attr('cx', d => x(d[0])).attr('cy', d => y(d[1])).attr('r', 5.3)
    .attr('fill', d => color(d[1]));

  // smooth + band
  const fit = p.fa.map((a, k) => ({a, d: p.fd[k], s: p.fs[k]}));
  g.append('path').datum(fit)
    .attr('d', d3.area().x(d => x(d.a)).y0(d => y(d.d - d.s)).y1(d => y(d.d + d.s)).curve(d3.curveCatmullRom))
    .attr('fill', '#8a8a8a').attr('fill-opacity', 0.45);
  g.append('path').datum(fit)
    .attr('d', d3.line().x(d => x(d.a)).y(d => y(d.d)).curve(d3.curveCatmullRom))
    .attr('fill', 'none').attr('stroke', '#222').attr('stroke-width', 2.2);

  // frame
  g.append('rect').attr('x', L).attr('y', T).attr('width', R - L).attr('height', B - T)
    .attr('fill', 'none').attr('stroke', INK).attr('stroke-width', 1.3);

  // axes
  g.append('g').attr('transform', `translate(${L},0)`)
    .call(d3.axisLeft(y).tickValues(yTicks).tickSize(9).tickPadding(7).tickFormat(d => d.toFixed(2)))
    .call(styleAxis);
  g.append('g').attr('transform', `translate(0,${B})`)
    .call(d3.axisBottom(x).tickValues(xTicks).tickSize(0).tickPadding(20))
    .call(styleAxis);
  g.append('g').attr('transform', `translate(0,${T})`)
    .call(d3.axisTop(x).tickValues(xTicks).tickSize(10).tickFormat(''))
    .call(styleAxis);
  g.append('g').attr('transform', `translate(${R},0)`)
    .call(d3.axisRight(y).tickValues(yTicks).tickSize(10).tickFormat(''))
    .call(styleAxis);

  // axis titles
  g.append('text').attr('transform', `translate(${p.ytX},${p.ytY}) rotate(-90)`)
    .attr('text-anchor', 'middle').attr('font-family', SERIF).attr('font-size', 28).attr('fill', INK)
    .attr('textLength', 214).attr('lengthAdjust', 'spacingAndGlyphs').text('Discrepancy (fm)');
  g.append('text').attr('x', p.mnX).attr('y', p.mnBy).attr('text-anchor', 'middle')
    .attr('font-family', SERIF).attr('font-size', 26).attr('fill', INK)
    .attr('textLength', 166).attr('lengthAdjust', 'spacingAndGlyphs').text('Mass number');

  // panel title
  g.append('text').attr('x', p.lx).attr('y', p.tBy).attr('font-family', SERIF).attr('font-size', 34)
    .attr('font-weight', 'bold').attr('fill', INK).text(labels[i]);
  g.append('text').attr('x', p.nx).attr('y', p.tBy).attr('font-family', SERIF).attr('font-size', 34)
    .attr('font-weight', 'bold').attr('fill', INK)
    .attr('textLength', p.nw).attr('lengthAdjust', 'spacingAndGlyphs').text(models[i]);

  // statistics
  g.append('text').attr('x', p.stX).attr('y', p.stY[0]).attr('font-family', SERIF).attr('font-size', 23)
    .attr('fill', INK).attr('textLength', 162).attr('lengthAdjust', 'spacingAndGlyphs').text(`RMSE= ${rmse[i]}`);
  g.append('text').attr('x', p.stX).attr('y', p.stY[1]).attr('font-family', SERIF).attr('font-size', 23)
    .attr('fill', INK).attr('textLength', 157).attr('lengthAdjust', 'spacingAndGlyphs').text(`MAE = ${mae[i]}`);

  // colour key
  g.append('text').attr('x', p.legX).attr('y', p.legBy).attr('font-family', SERIF).attr('font-size', 22)
    .attr('fill', INK).attr('textLength', 125).attr('lengthAdjust', 'spacingAndGlyphs').text('Discrepancy');
  g.append('text').attr('x', p.fmX).attr('y', p.fmBy).attr('text-anchor', 'middle').attr('font-family', SERIF)
    .attr('font-size', 22).attr('fill', INK).attr('textLength', 44).attr('lengthAdjust', 'spacingAndGlyphs').text('(fm)');

  const [bx0, bx1, by0, by1] = p.barBox;
  const gid = `jet${i}`;
  const grad = defs.append('linearGradient').attr('id', gid)
    .attr('x1', 0).attr('y1', 1).attr('x2', 0).attr('y2', 0);
  jet.forEach((c, k) => grad.append('stop').attr('offset', k / (jet.length - 1)).attr('stop-color', c));
  g.append('rect').attr('x', bx0).attr('y', by0).attr('width', bx1 - bx0).attr('height', by1 - by0)
    .attr('fill', `url(#${gid})`).attr('stroke', '#333').attr('stroke-width', 1);
  const cb = d3.scaleLinear().domain([lo, hi]).range([by1, by0]);
  g.append('g').attr('transform', `translate(${bx1},0)`)
    .call(d3.axisRight(cb).tickValues(p.bt).tickSize(6).tickPadding(7).tickFormat(barFmt))
    .call(styleAxis);
});

// caption
const cap1 = svg.append('text').attr('x', 41).attr('y', 1763).attr('font-family', SERIF)
  .attr('font-size', 19).attr('fill', '#111').attr('textLength', 1060).attr('lengthAdjust', 'spacingAndGlyphs');
cap1.append('tspan').attr('font-family', "'Liberation Sans', Arial, sans-serif").attr('font-weight', 'bold').text('Figure 1. ');
cap1.append('tspan').text('Discrepancy distribution for nuclear charge radius estimated from (a) Cubist, (b) XGBoost, (c) RF, (d)QRF, (e) GPPK, (f)');
const cap2 = svg.append('text').attr('x', 41).attr('y', 1787).attr('font-family', SERIF)
  .attr('font-size', 19).attr('fill', '#111').attr('textLength', 624).attr('lengthAdjust', 'spacingAndGlyphs');
cap2.append('tspan').text('MARS model, (g) SVR and (h) ANN. The units for ');
cap2.append('tspan').attr('font-style', 'italic').text('RMSE');
cap2.append('tspan').text(' and ');
cap2.append('tspan').attr('font-style', 'italic').text('MAE');
cap2.append('tspan').text(' are in fm.');
</script>
</body>
</html>
